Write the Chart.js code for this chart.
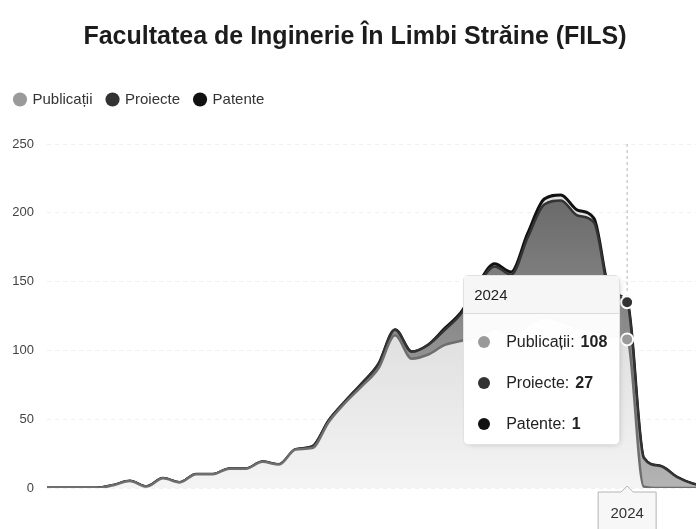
<!DOCTYPE html>
<html lang="ro">
<head>
  <meta charset="UTF-8">
  <title>Facultatea de Inginerie În Limbi Străine (FILS)</title>

  <!-- Chart.js -->
  <script src="https://cdn.jsdelivr.net/npm/chart.js"></script>

  <style>
    html, body { margin: 0; padding: 0; background: #fff; overflow: hidden; }
    #wrap { position: relative; width: 715px; height: 529px; }

    /* tooltip HTML (stil apropiat de cel din imagine) */
    #tip {
      position: absolute; display: none; width: 155px;
      background: rgba(255,255,255,0.97); border: 1px solid #e2e2e2; border-radius: 5px;
      box-shadow: 2px 2px 6px -4px #999;
      font-family: 'Liberation Sans', Arial, sans-serif; color: #222; pointer-events: none;
    }
    #tip .tt-title { background: #f6f6f6; border-bottom: 1px solid #dcdcdc; height: 37px; line-height: 37px; padding-left: 10px; font-size: 15px; }
    #tip .tt-body { padding: 7px 0 0 14px; }
    #tip .tt-row { height: 41px; display: flex; align-items: center; font-size: 16px; }
    #tip .tt-dot { width: 12px; height: 12px; border-radius: 50%; margin-right: 16px; }
    #tip .tt-val { font-weight: bold; margin-left: 6px; }
  </style>
</head>
<body>
<div id="wrap">
  <canvas id="chart"></canvas>
  <div id="tip"></div>
</div>

<script>
// ani (axa X)
const years = ['1989','1990','1991','1992','1993','1994','1995','1996','1997','1998',
               '1999','2000','2001','2002','2003','2004','2005','2006','2007','2008',
               '2009','2010','2011','2012','2013','2014','2015','2016','2017','2018',
               '2019','2020','2021','2022','2023','2024','2025','2026','2027','2028','2029'];

// valori pe serii (stivuite)
const publicatii = [0,0,0,0,2,5,1,7,4,10,
                    10,14,14,19,17,28,29,48,62,74,
                    87,111,94,97,104,107,110,116,112,118,
                    124,121,117,114,110,108,1,0,0,0,0];
const proiecte   = [0,0,0,0,0,0,0,0,0,0,
                    0,0,0,0,0,0,1,1,1,2,
                    3,4,5,7,11,20,37,45,43,64,
                    82,88,81,79,31,27,21,16,8,3,1];
const patente    = [0,0,0,0,0,0,0,0,0,0,
                    0,0,0,0,0,0,0,0,0,0,
                    0,0,0,0,1,1,1,2,2,3,
                    4,4,4,3,1,1,0,0,0,0,0];

// etichete axa Y
const yTicks = [0, 50, 100, 150, 200, 250];

// anul evidentiat (tooltip + crosshair)
const activeYear = '2024';

Chart.defaults.font.family = "'Liberation Sans', Arial, sans-serif";

// gradient vertical pentru umplerea ariilor
function vGrad(c1, c2) {
  return (ctx) => {
    const area = ctx.chart.chartArea;
    if (!area) return c1;
    const g = ctx.chart.ctx.createLinearGradient(0, area.top, 0, area.bottom);
    g.addColorStop(0, c1);
    g.addColorStop(1, c2);
    return g;
  };
}

// legenda mai inalta -> zona de desen incepe mai jos
const legendGap = {
  id: 'legendGap',
  beforeInit(chart) {
    const fit = chart.legend.fit;
    chart.legend.fit = function () { fit.call(this); this.height += 27; };
  }
};

// linie verticala punctata + eticheta anului sub axa
const crosshair = {
  id: 'crosshair',
  beforeDatasetsDraw(chart) {
    const i = years.indexOf(activeYear);
    const x = chart.scales.x.getPixelForValue(i);
    const a = chart.chartArea;
    const c = chart.ctx;
    c.save();
    c.strokeStyle = '#b8b8b8';
    c.lineWidth = 1;
    c.setLineDash([3, 3]);
    c.beginPath();
    c.moveTo(x, a.top);
    c.lineTo(x, a.bottom);
    c.stroke();
    c.restore();
  },
  afterDraw(chart) {
    const i = years.indexOf(activeYear);
    const x = chart.scales.x.getPixelForValue(i);
    const y = chart.chartArea.bottom;
    const c = chart.ctx;
    const w = 58, top = y + 4, h = 46;
    c.save();
    c.fillStyle = '#f7f7f7';
    c.strokeStyle = '#b5b5b5';
    c.lineWidth = 1;
    c.beginPath();
    c.moveTo(x - w / 2, top);
    c.lineTo(x - 6, top);
    c.lineTo(x, top - 6);
    c.lineTo(x + 6, top);
    c.lineTo(x + w / 2, top);
    c.lineTo(x + w / 2, top + h);
    c.lineTo(x - w / 2, top + h);
    c.closePath();
    c.fill();
    c.stroke();
    c.fillStyle = '#333';
    c.font = "15px 'Liberation Sans', Arial, sans-serif";
    c.textAlign = 'center';
    c.textBaseline = 'middle';
    c.fillText(years[i], x, top + 22);
    c.restore();
  }
};

const dotColors = ['#9a9a9a', '#333333', '#111111'];

// tooltip extern (HTML)
function externalTip(context) {
  const tip = document.getElementById('tip');
  const t = context.tooltip;
  if (t.opacity === 0 || !t.dataPoints || !t.dataPoints.length) { tip.style.display = 'none'; return; }
  let html = '<div class="tt-title">' + t.title[0] + '</div><div class="tt-body">';
  t.dataPoints.forEach(p => {
    html += '<div class="tt-row"><span class="tt-dot" style="background:' + dotColors[p.datasetIndex] + '"></span>' +
            p.dataset.label + ':<span class="tt-val">' + p.formattedValue + '</span></div>';
  });
  tip.innerHTML = html + '</div>';
  tip.style.display = 'block';
  const chart = context.chart;
  const x = chart.scales.x.getPixelForValue(t.dataPoints[0].dataIndex);
  tip.style.left = (x - 7 - tip.offsetWidth) + 'px';
  tip.style.top = (chart.chartArea.top + 131) + 'px';
}

function series(label, data, line, dot, fill, fillTo, width) {
  return {
    label: label,
    data: data,
    borderColor: line,
    borderWidth: width,
    backgroundColor: fill,
    fill: fillTo,
    cubicInterpolationMode: 'monotone',
    pointRadius: 0,
    pointStyle: 'circle',
    pointBackgroundColor: dot,
    pointBorderColor: dot,
    pointBorderWidth: 0,
    pointHoverRadius: 6,
    pointHoverBackgroundColor: dot,
    pointHoverBorderColor: '#ffffff',
    pointHoverBorderWidth: 2
  };
}

const ctx = document.getElementById('chart').getContext('2d');
const chart = new Chart(ctx, {
  type: 'line',
  data: {
    labels: years,
    datasets: [
      series('Publicații', publicatii, '#6e6e6e', dotColors[0], vGrad('#c6c6c6', '#f4f4f4'), 'origin', 2.5),
      series('Proiecte',   proiecte,   '#333333', dotColors[1], vGrad('#5c5c5c', '#b4b4b4'), '-1', 2.5),
      series('Patente',    patente,    '#111111', dotColors[2], '#e2e2e2', '-1', 3)
    ]
  },
  options: {
    responsive: true,
    maintainAspectRatio: false,
    animation: false,
    events: [],
    layout: { padding: { left: 0, right: 5, top: 0, bottom: 41 } },
    interaction: { mode: 'index', intersect: false },
    scales: {
      x: { type: 'category', display: false },
      y: {
        stacked: true,
        min: 0,
        max: 250,
        afterBuildTicks: s => { s.ticks = yTicks.map(v => ({ value: v })); },
        afterFit: s => { s.width = 47; },
        ticks: { color: '#444', padding: 13, font: { size: 13 } },
        grid: { color: '#efefef', drawTicks: false },
        border: { display: false, dash: [4, 4] }
      }
    },
    plugins: {
      title: {
        display: true,
        text: 'Facultatea de Inginerie În Limbi Străine (FILS)',
        color: '#1c1c1c',
        font: { size: 25, weight: 'bold' },
        padding: { top: 22, bottom: 25 }
      },
      legend: {
        position: 'top',
        align: 'start',
        labels: {
          usePointStyle: true,
          pointStyle: 'circle',
          boxWidth: 10,
          boxHeight: 10,
          padding: 15,
          color: '#333',
          font: { size: 15 }
        }
      },
      tooltip: { enabled: false, external: externalTip }
    }
  },
  plugins: [legendGap, crosshair]
});

// activeaza punctele si tooltip-ul pentru anul ales
const idx = years.indexOf(activeYear);
const active = [0, 1, 2].map(d => ({ datasetIndex: d, index: idx }));
chart.setActiveElements(active);
chart.tooltip.setActiveElements(active, {
  x: chart.scales.x.getPixelForValue(idx),
  y: chart.scales.y.getPixelForValue(publicatii[idx] + proiecte[idx] + patente[idx])
});
chart.update();
</script>
</body>
</html>
